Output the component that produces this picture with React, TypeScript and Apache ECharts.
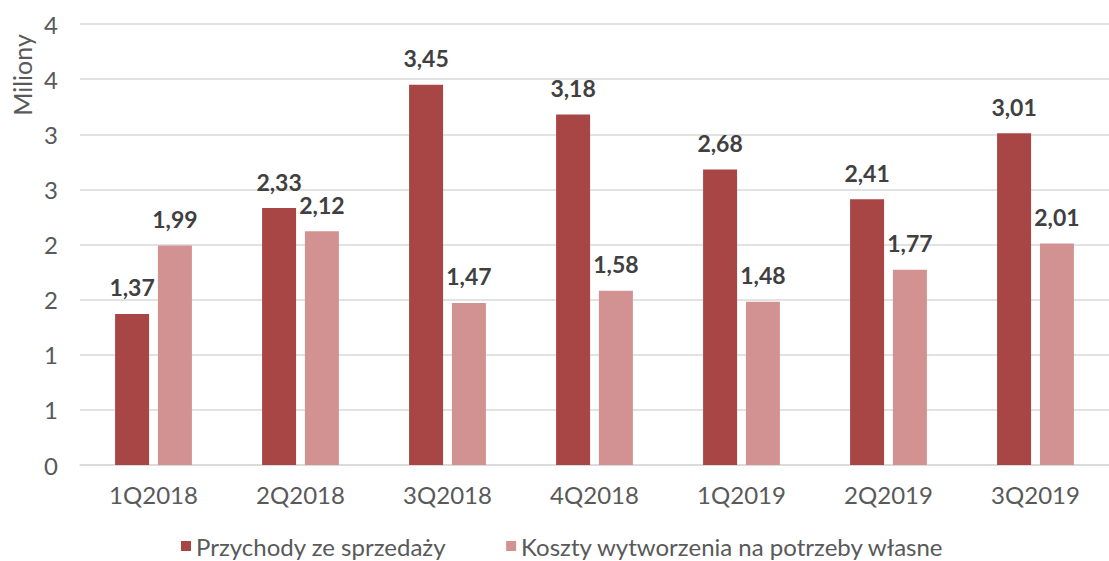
import React, { useEffect, useRef } from "react";
import * as echarts from "echarts";

const categories = ["1Q2018", "2Q2018", "3Q2018", "4Q2018", "1Q2019", "2Q2019", "3Q2019"];
const revenue = [1.37, 2.33, 3.45, 3.18, 2.68, 2.41, 3.01];
const ownCosts = [1.99, 2.12, 1.47, 1.58, 1.48, 1.77, 2.01];
const seriesNames = ["Przychody ze sprzedaży", "Koszty wytworzenia na potrzeby własne"];
const axisName = "Miliony";

const FONT = "Lato, 'Noto Sans', sans-serif";

export default function App() {
  const ref = useRef<HTMLDivElement>(null);
  useEffect(() => {
    if (!ref.current) return;
    const chart = echarts.init(ref.current, undefined, { renderer: "svg" });
    const label = {
      show: true,
      position: "top" as const,
      distance: 15,
      fontFamily: FONT,
      fontSize: 23,
      fontWeight: "bold" as const,
      color: "#404040",
      formatter: (p: any) => p.value.toFixed(2).replace(".", ","),
    };
    chart.setOption({
      animation: false,
      backgroundColor: "#ffffff",
      textStyle: { fontFamily: FONT },
      grid: { left: 80, right: -6, top: 24, bottom: 96, containLabel: false },
      legend: {
        data: seriesNames,
        left: 181,
        top: 534,
        padding: 0,
        itemWidth: 10,
        itemHeight: 10,
        itemGap: 60,
        icon: "rect",
        textStyle: { fontFamily: FONT, fontSize: 24, color: "#595959" },
      },
      graphic: [
        {
          type: "text",
          x: 22,
          y: 75,
          rotation: Math.PI / 2,
          style: {
            text: axisName,
            fontFamily: FONT,
            fontSize: 25,
            fill: "#595959",
            align: "center",
            verticalAlign: "middle",
          },
        },
      ],
      xAxis: {
        type: "category",
        data: categories,
        axisLine: { lineStyle: { color: "#d9d9d9", width: 1.5 } },
        axisTick: { show: false },
        axisLabel: { fontFamily: FONT, fontSize: 24, color: "#595959", margin: 17 },
      },
      yAxis: {
        type: "value",
        min: 0,
        max: 4,
        interval: 0.5,
        axisLine: { show: false },
        axisTick: { show: false },
        splitLine: { lineStyle: { color: "#d9d9d9", width: 1.5 } },
        axisLabel: {
          fontFamily: FONT,
          fontSize: 24,
          color: "#595959",
          margin: 22,
          formatter: (v: number) => String(Math.round(v)),
        },
      },
      series: [
        {
          name: seriesNames[0],
          type: "bar",
          data: revenue,
          barWidth: 34,
          barGap: "26%",
          itemStyle: { color: "#a84646" },
          label,
        },
        {
          name: seriesNames[1],
          type: "bar",
          data: ownCosts,
          barWidth: 34,
          itemStyle: { color: "#d39292" },
          label,
        },
      ],
    });
    return () => chart.dispose();
  }, []);
  return <div ref={ref} style={{ position: "fixed", left: 0, top: 0, width: 1109, height: 561 }} />;
}
